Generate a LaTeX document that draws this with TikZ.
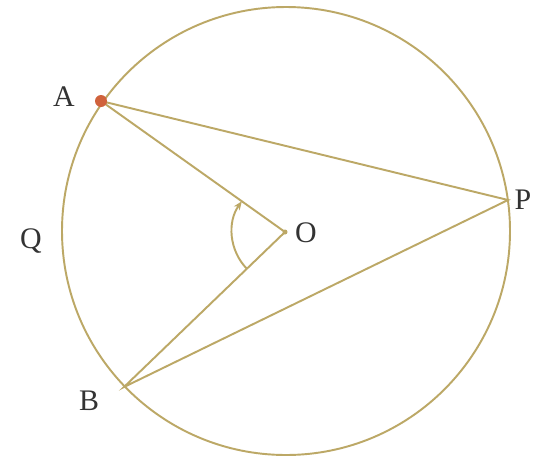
\documentclass[tikz,border=0pt]{standalone}
\usepackage{fontspec}
\setmainfont{Liberation Serif}
\usetikzlibrary{arrows.meta}
\definecolor{linec}{HTML}{BCA866}
\definecolor{dotc}{HTML}{D0623C}
\begin{document}
\begin{tikzpicture}[x=0.02cm,y=-0.02cm,
  geo/.style={draw=linec,line width=1.1pt},
  lbl/.style={font=\fontsize{17}{19}\selectfont,text=black!80,inner sep=0pt}]
\useasboundingbox (0,0) rectangle (540,460);
\fill[white] (0,0) rectangle (540,460);
\coordinate (C) at (286,231);
\coordinate (A) at (101,101);
\coordinate (P) at (508,200);
\coordinate (B) at (124,387);
\coordinate (O) at (285,232);
\draw[geo] (C) circle [radius=224];
\draw[geo] (A) -- (P) -- (B) -- (O) -- (A);
\draw[geo,-{Stealth[length=5pt,width=4pt]}] (O) ++(136.1:53)
  arc [start angle=136.1, end angle=215.4, radius=53];
\fill[dotc] (A) circle [radius=6];
\fill[linec] (O) circle [radius=2.5];
\node[lbl] (la) at (64,97) {A};
\node[lbl] (lo) at (306,233) {O};
\node[lbl] (lp) at (523,200) {P};
\node[lbl] (lq) at (31,241) {Q};
\node[lbl] (lb) at (89,401) {B};
\end{tikzpicture}
\end{document}
